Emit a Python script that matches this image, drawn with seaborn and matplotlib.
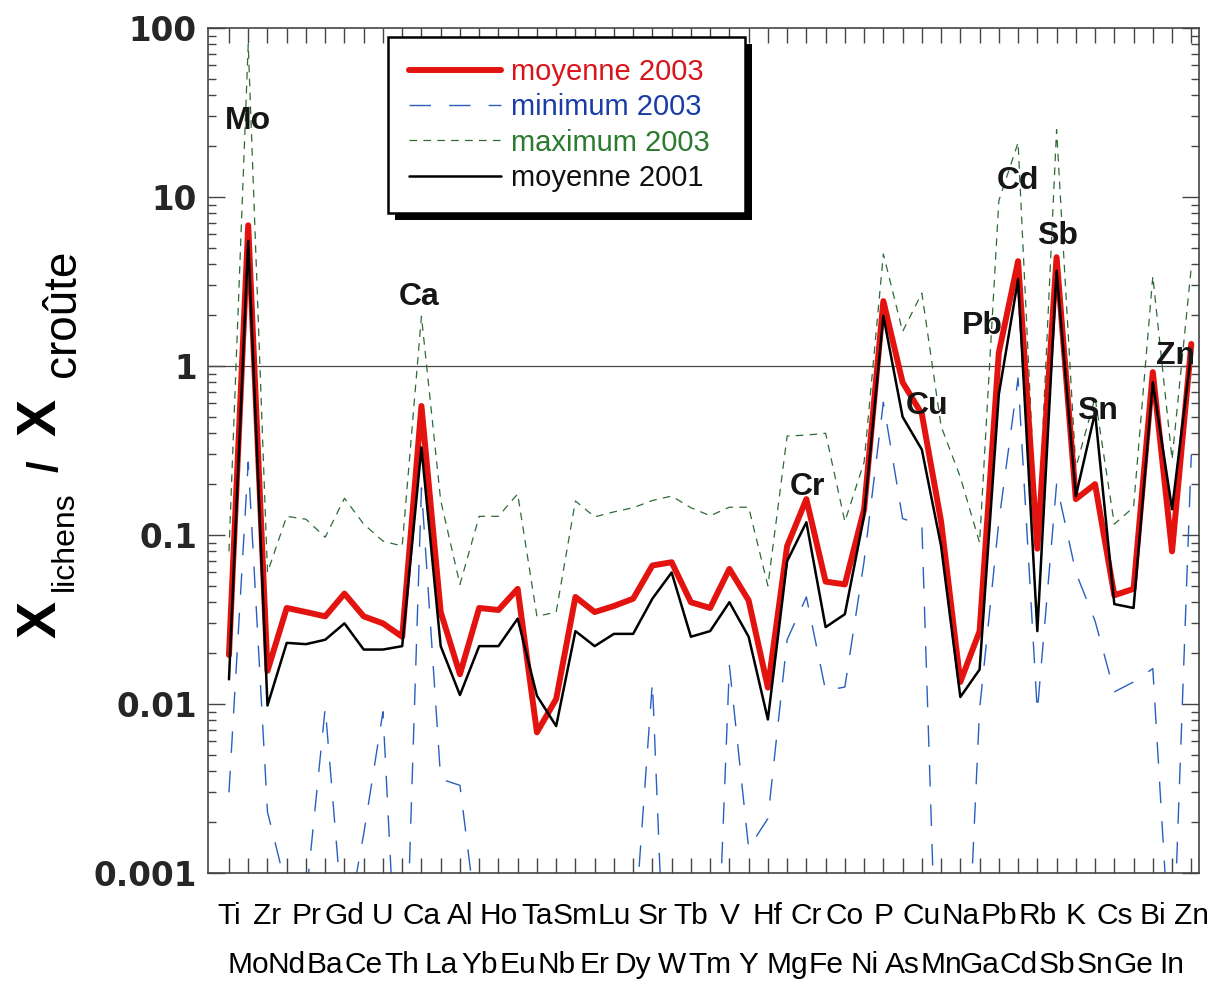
"""
Lichens / crust enrichment factors, 2001 vs 2003 (log scale).
Saves out.png
"""

import matplotlib

matplotlib.use("Agg")

import matplotlib.pyplot as plt
import numpy as np
import pandas as pd
import seaborn as sns
from matplotlib.patches import Rectangle
from matplotlib.ticker import LogLocator, NullFormatter
from matplotlib.transforms import IdentityTransform


ELEMENTS = [
    "Ti", "Mo", "Zr", "Nd", "Pr", "Ba", "Gd", "Ce", "U", "Th", "Ca", "La", "Al",
    "Yb", "Ho", "Eu", "Ta", "Nb", "Sm", "Er", "Lu", "Dy", "Sr", "W", "Tb", "Tm",
    "V", "Y", "Hf", "Mg", "Cr", "Fe", "Co", "Ni", "P", "As", "Cu", "Mn", "Na",
    "Ga", "Pb", "Cd", "Rb", "Sb", "K", "Sn", "Cs", "Ge", "Bi", "In", "Zn",
]

MOYENNE_2003 = [
    0.0195, 6.8, 0.0157, 0.037, 0.035, 0.033, 0.045, 0.033, 0.030, 0.025, 0.58,
    0.035, 0.015, 0.037, 0.036, 0.048, 0.0068, 0.0107, 0.043, 0.035, 0.038,
    0.042, 0.066, 0.069, 0.040, 0.037, 0.063, 0.041, 0.0125, 0.086, 0.163,
    0.053, 0.051, 0.142, 2.42, 0.80, 0.52, 0.12, 0.0135, 0.027, 1.2, 4.17,
    0.083, 4.4, 0.163, 0.20, 0.044, 0.048, 0.92, 0.080, 1.35,
]

MINIMUM_2003 = [
    0.003, 0.27, 0.0023, 0.0008, 0.0007, 0.0095, 0.0004, 0.0017, 0.009, 0.00005,
    0.19, 0.0036, 0.0033, 0.0004, 0.0002, 0.0002, 0.0002, 0.0002, 0.0002,
    0.0002, 0.0002, 0.00035, 0.0135, 0.00002, 0.00002, 0.00002, 0.0169, 0.0014,
    0.0021, 0.024, 0.043, 0.012, 0.0126, 0.07, 0.61, 0.125, 0.115, 0.00003,
    0.00003, 0.0093, 0.12, 0.85, 0.009, 0.2, 0.06, 0.031, 0.0118, 0.0135,
    0.0162, 0.0002, 0.3,
]

MAXIMUM_2003 = [
    0.08, 80, 0.06, 0.129, 0.124, 0.097, 0.165, 0.116, 0.092, 0.086, 1.97, 0.16,
    0.051, 0.129, 0.129, 0.175, 0.033, 0.035, 0.159, 0.128, 0.137, 0.145, 0.16,
    0.17, 0.145, 0.13, 0.146, 0.146, 0.05, 0.385, 0.39, 0.40, 0.12, 0.27, 4.6,
    1.6, 2.7, 0.44, 0.22, 0.09, 9.5, 21, 0.082, 25, 0.25, 0.65, 0.116, 0.146,
    3.4, 0.28, 3.85,
]

MOYENNE_2001 = [
    0.014, 5.5, 0.0098, 0.023, 0.0226, 0.024, 0.030, 0.021, 0.021, 0.022, 0.33,
    0.022, 0.0113, 0.022, 0.022, 0.032, 0.0112, 0.0074, 0.027, 0.022, 0.026,
    0.026, 0.042, 0.060, 0.025, 0.027, 0.040, 0.025, 0.0081, 0.070, 0.119,
    0.0285, 0.034, 0.13, 1.98, 0.50, 0.32, 0.086, 0.011, 0.016, 0.68, 3.27,
    0.027, 3.66, 0.17, 0.53, 0.039, 0.037, 0.80, 0.142, 1.21,
]

SERIES_NAMES = ["moyenne 2003", "minimum 2003", "maximum 2003", "moyenne 2001"]

Y_TICKS = [0.001, 0.01, 0.1, 1, 10, 100]
Y_TICK_LABELS = ["0.001", "0.01", "0.1", "1", "10", "100"]

PEAK_LABELS = ["Mo", "Ca", "Cr", "Cu", "Pb", "Cd", "Sb", "Sn", "Zn"]
PEAK_LABEL_X = [1.0, 9.87, 30.08, 36.26, 39.17, 41.0, 43.06, 45.14, 49.2]
PEAK_LABEL_Y = [28, 2.56, 0.192, 0.58, 1.72, 12.4, 5.88, 0.54, 1.15]

RED = "#e3140f"
BLUE = "#2b5fbf"
GREEN = "#2e6b35"
TEXT_COLORS = ["#d8151b", "#1a3ca6", "#2b7a2e", "#111111"]

W_PX, H_PX = 1217, 981


def main() -> None:
    sns.set_theme(style="white")
    plt.rcParams["font.family"] = ["Liberation Sans", "DejaVu Sans"]
    plt.rcParams["lines.scale_dashes"] = False

    df = pd.DataFrame(
        {
            "pos": np.arange(len(ELEMENTS)),
            "element": ELEMENTS,
            "moy03": MOYENNE_2003,
            "min03": MINIMUM_2003,
            "max03": MAXIMUM_2003,
            "moy01": MOYENNE_2001,
        }
    )

    fig = plt.figure(figsize=(W_PX / 100, H_PX / 100), dpi=100)
    fig.patch.set_facecolor("white")
    ax = fig.add_axes([208 / W_PX, 1 - 873 / H_PX, 991 / W_PX, 845 / H_PX])
    ax.set_facecolor("white")

    ax.axhline(1, color="#4a4a4a", lw=0.9, zorder=1)

    sns.lineplot(data=df, x="pos", y="max03", ax=ax, color=GREEN, lw=0.9,
                 linestyle=(0, (5.5, 4.5)), estimator=None, sort=False, legend=False)
    h_max = ax.lines[-1]
    sns.lineplot(data=df, x="pos", y="min03", ax=ax, color=BLUE, lw=1.0,
                 linestyle=(0, (15.5, 13)), estimator=None, sort=False, legend=False)
    h_min = ax.lines[-1]
    sns.lineplot(data=df, x="pos", y="moy03", ax=ax, color=RED, lw=4.3,
                 estimator=None, sort=False, legend=False)
    h_moy03 = ax.lines[-1]
    sns.lineplot(data=df, x="pos", y="moy01", ax=ax, color="black", lw=1.8,
                 estimator=None, sort=False, legend=False)
    h_moy01 = ax.lines[-1]

    ax.set_yscale("log")
    ax.set_ylim(0.001, 100)
    ax.set_xlim(-1.09, 50.4)

    # x labels on two rows: even positions on top row, odd on bottom row
    ax.set_xticks(df["pos"][::2], df["element"][::2])
    ax.set_xticks(df["pos"][1::2], df["element"][1::2], minor=True)
    ax.tick_params(axis="x", which="both", direction="in", length=11, width=1,
                   top=True, bottom=True, labelsize=21.5, color="#444444",
                   labelcolor="black")
    ax.tick_params(axis="x", which="major", pad=21)
    ax.tick_params(axis="x", which="minor", pad=56)

    ax.set_yticks(Y_TICKS, Y_TICK_LABELS)
    ax.yaxis.set_minor_locator(LogLocator(base=10, subs=np.arange(2, 10)))
    ax.yaxis.set_minor_formatter(NullFormatter())
    ax.tick_params(axis="y", which="major", direction="in", length=12, width=1,
                   left=True, right=True, pad=8, color="#444444")
    ax.tick_params(axis="y", which="minor", direction="in", length=6, width=1,
                   left=True, right=True, color="#444444")
    for lbl in ax.get_yticklabels():
        lbl.set_fontfamily("DejaVu Sans")
        lbl.set_fontweight("bold")
        lbl.set_fontsize(23.5)

    for side in ["left", "right", "top", "bottom"]:
        ax.spines[side].set_color("#444444")
        ax.spines[side].set_linewidth(1.2)

    ax.set_xlabel("")
    ax.set_ylabel("")

    for name, x, y in zip(PEAK_LABELS, PEAK_LABEL_X, PEAK_LABEL_Y):
        ax.text(x, y, name, ha="center", va="center", fontsize=23,
                fontweight="bold", color="#161616", zorder=6)

    # y-axis title built from pieces (big X, subscripts)
    def ytxt(px, py, s, size, weight="normal"):
        fig.text(px / W_PX, 1 - py / H_PX, s, rotation=90, ha="center",
                 va="center", fontsize=size, fontweight=weight, color="black")

    ytxt(42, 619, "X", 40, "bold")
    ytxt(65, 541, "lichens", 23)
    ytxt(47, 466, "/", 30, "bold")
    ytxt(42, 417, "X", 40, "bold")
    ytxt(63, 313, "croûte", 33)

    leg = ax.legend(
        handles=[h_moy03, h_min, h_max, h_moy01],
        labels=SERIES_NAMES,
        loc="upper left",
        bbox_to_anchor=((388 - 208) / 991, 0.5, (745 - 388) / 991, (873 - 37) / 845 - 0.5),
        mode="expand",
        borderaxespad=0,
        frameon=True,
        fancybox=False,
        edgecolor="black",
        framealpha=1,
        fontsize=21,
        handlelength=3.15,
        handletextpad=0.35,
        labelspacing=0.25,
        borderpad=0.72,
    )
    leg.get_frame().set_linewidth(1.8)
    for text, c in zip(leg.get_texts(), TEXT_COLORS):
        text.set_color(c)

    fig.canvas.draw()
    bb = leg.get_window_extent()
    ax.add_patch(Rectangle((bb.x0 + 7, bb.y0 - 7), bb.width, bb.height,
                           transform=IdentityTransform(), facecolor="black",
                           edgecolor="none", zorder=4.9, clip_on=False))

    fig.savefig("out.png", dpi=100)
    plt.close(fig)


if __name__ == "__main__":
    main()
